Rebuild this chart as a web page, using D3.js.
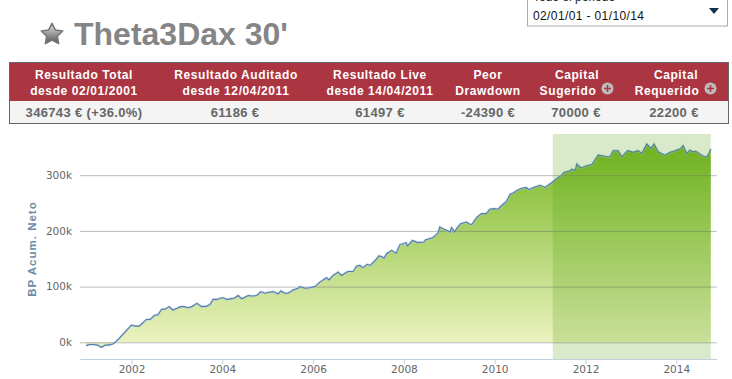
<!DOCTYPE html>
<html>
<head>
<meta charset="utf-8">
<script src="https://cdnjs.cloudflare.com/ajax/libs/d3/7.8.5/d3.min.js"></script>
<style>
html, body { margin: 0; padding: 0; background: #fff; overflow: hidden; }
svg { display: block; }
</style>
</head>
<body>
<svg id="chart" width="732" height="379"></svg>
<script>
// values: decimal year and accumulated profit in thousands
const years = [
    2001.00,2001.08,2001.17,2001.25,2001.34,2001.42,2001.49,2001.59,2001.67,2001.75,2001.83,2001.91,
    2002.00,2002.08,2002.17,2002.25,2002.33,2002.41,2002.52,2002.58,2002.66,2002.75,2002.83,2002.91,
    2003.00,2003.08,2003.16,2003.24,2003.33,2003.44,2003.55,2003.66,2003.73,2003.80,2003.88,2003.95,
    2004.02,2004.10,2004.17,2004.26,2004.35,2004.43,2004.57,2004.66,2004.76,2004.85,2004.94,
    2005.03,2005.12,2005.23,2005.29,2005.38,2005.45,2005.56,2005.67,2005.71,2005.82,2005.93,
    2006.04,2006.15,2006.22,2006.30,2006.35,2006.44,2006.55,2006.63,2006.70,2006.77,2006.88,2006.96,
    2007.03,2007.10,2007.19,2007.26,2007.32,2007.38,2007.45,2007.51,2007.56,2007.62,2007.73,2007.83,2007.91,
    2008.05,2008.08,2008.19,2008.31,2008.44,2008.48,2008.56,2008.64,2008.75,2008.79,2008.86,2008.94,
    2009.02,2009.05,2009.12,2009.16,2009.25,2009.34,2009.38,2009.45,2009.50,2009.60,2009.71,2009.82,2009.89,
    2009.98,2010.07,2010.16,2010.26,2010.34,2010.41,2010.48,2010.58,2010.69,2010.76,2010.83,2010.89,
    2011.00,2011.11,2011.26,2011.39,2011.46,2011.53,2011.66,2011.70,2011.77,2011.81,2011.90,
    2012.03,2012.14,2012.28,2012.36,2012.47,2012.54,2012.61,2012.72,2012.80,2012.87,2012.93,
    2013.05,2013.16,2013.24,2013.35,2013.44,2013.51,2013.60,2013.67,2013.75,2013.86,2013.94,
    2014.01,2014.08,2014.15,2014.23,2014.30,2014.36,2014.43,2014.50,2014.56,2014.65,2014.70,2014.76
];
const netProfit = [
    -6,-4,-4,-5,-9,-5,-5,-3,2,9,16,23,
    31,29,29,35,41,41,49,49,59,60,64,58,
    61,64,64,62,64,70,64,65,68,77,77,79,
    80,77,78,79,84,78,84,83,84,91,88,
    90,91,87,92,88,88,94,97,100,97,98,
    100,108,112,116,112,120,126,120,124,127,127,137,
    138,134,140,138,143,148,155,154,151,159,165,160,175,
    179,173,183,179,180,184,186,188,196,207,204,201,
    198,206,198,204,213,215,216,212,212,224,231,231,239,
    240,239,246,253,266,268,272,276,278,274,277,279,
    282,278,287,295,299,305,308,311,308,320,313,
    317,319,336,335,333,333,344,344,333,339,344,
    341,344,339,356,348,356,342,339,336,341,343,
    345,347,353,339,345,342,343,339,336,332,336,347
];
const yTicks = [0, 100, 200, 300];
const xTicks = [2002, 2004, 2006, 2008, 2010, 2012, 2014];
const liveStart = 2011.28;
const liveEnd = 2014.76;

const tableHeaders = [
    ["Resultado Total", "desde 02/01/2001"],
    ["Resultado Auditado", "desde 12/04/2011"],
    ["Resultado Live", "desde 14/04/2011"],
    ["Peor", "Drawdown"],
    ["Capital", "Sugerido"],
    ["Capital", "Requerido"]
];
const tableValues = ["346743 € (+36.0%)", "61186 €", "61497 €", "-24390 €", "70000 €", "22200 €"];
const headerCenters = [84, 236, 380, 488, 577, 676];
const secondLineCenters = [84, 236, 380, 488, 568, 667];
const valueCenters = [84, 235, 380, 488, 576, 674];
const plusIcons = [607.5, 710.5];

const svg = d3.select("#chart");
const defs = svg.append("defs");

// area colours fade towards the zero line
let areaGrad = defs.append("linearGradient")
    .attr("id", "areaGrad")
    .attr("gradientUnits", "userSpaceOnUse")
    .attr("x1", 0).attr("x2", 0).attr("y1", 145).attr("y2", 343);
areaGrad.append("stop").attr("offset", 0).attr("stop-color", "#78b824");
areaGrad.append("stop").attr("offset", 1).attr("stop-color", "#ebf2bf");

let starGrad = defs.append("linearGradient")
    .attr("id", "starGrad").attr("x1", 0).attr("x2", 0).attr("y1", 0).attr("y2", 1);
starGrad.append("stop").attr("offset", 0).attr("stop-color", "#e4e4e4");
starGrad.append("stop").attr("offset", 1).attr("stop-color", "#555");

// scales
const x = d3.scaleLinear().domain([2000.866, 2014.89]).range([80, 716.7]);
const y = d3.scaleLinear().domain([0, 300]).range([342.3, 175.2]);
const axisY = 359;

// title
let starShape = d3.lineRadial()
    .angle((d, i) => i * Math.PI / 5)
    .radius((d, i) => i % 2 ? 5.6 : 11.2)
    .curve(d3.curveLinearClosed);
svg.append("path")
    .attr("d", starShape(d3.range(10)))
    .attr("transform", "translate(52,34.5)")
    .attr("fill", "url(#starGrad)")
    .attr("stroke", "#777")
    .attr("stroke-width", 1.6)
    .attr("stroke-linejoin", "round");
svg.append("text")
    .attr("x", 74).attr("y", 45)
    .attr("font-family", "'Liberation Sans', Arial, sans-serif")
    .attr("font-weight", "bold")
    .attr("font-size", 32)
    .attr("fill", "#858585")
    .text("Theta3Dax 30'");

// date selector, its top is cut by the window
svg.append("rect")
    .attr("x", 527.5).attr("y", -10).attr("width", 200).attr("height", 36)
    .attr("fill", "#fff").attr("stroke", "#aaa");
svg.append("text")
    .attr("x", 533).attr("y", 1)
    .attr("font-family", "'Liberation Sans', Arial, sans-serif")
    .attr("font-size", 12).attr("fill", "#222")
    .text("Todo el periodo");
svg.append("text")
    .attr("x", 533).attr("y", 20)
    .attr("font-family", "'Liberation Sans', Arial, sans-serif")
    .attr("font-size", 12).attr("fill", "#111").attr("letter-spacing", 0.38)
    .text("02/01/01 - 01/10/14");
svg.append("path")
    .attr("d", "M709,8L719,8L714,14Z")
    .attr("fill", "#10304a");

// results table
svg.append("rect")
    .attr("x", 9.5).attr("y", 62.5).attr("width", 719).attr("height", 61)
    .attr("fill", "#f4f4f4").attr("stroke", "#666");
svg.append("rect")
    .attr("x", 10).attr("y", 63).attr("width", 718).attr("height", 38)
    .attr("fill", "#ab3540");

let heads = svg.selectAll(".head")
    .data(tableHeaders)
    .enter()
    .append("text")
    .attr("class", "head")
    .attr("text-anchor", "middle")
    .attr("font-family", "'Liberation Sans', Arial, sans-serif")
    .attr("font-weight", "bold")
    .attr("font-size", 12)
    .attr("letter-spacing", 0.6)
    .attr("fill", "#fff");
heads.append("tspan")
    .attr("x", (d, i) => headerCenters[i]).attr("y", 79)
    .text(d => d[0]);
heads.append("tspan")
    .attr("x", (d, i) => secondLineCenters[i]).attr("y", 95)
    .text(d => d[1]);

svg.selectAll(".val")
    .data(tableValues)
    .enter()
    .append("text")
    .attr("class", "val")
    .attr("x", (d, i) => valueCenters[i])
    .attr("y", 117)
    .attr("text-anchor", "middle")
    .attr("font-family", "'Liberation Sans', Arial, sans-serif")
    .attr("font-weight", "bold")
    .attr("font-size", 13)
    .attr("letter-spacing", 0.35)
    .attr("fill", "#666")
    .text(d => d);

let icons = svg.selectAll(".plus")
    .data(plusIcons)
    .enter()
    .append("g")
    .attr("class", "plus")
    .attr("transform", d => `translate(${d},88.5)`);
icons.append("circle").attr("r", 6).attr("fill", "#bdbdbd");
icons.append("path")
    .attr("d", "M-3.5,0H3.5M0,-3.5V3.5")
    .attr("stroke", "#ab3540").attr("stroke-width", 1.6);

// area and line
let points = years.map((d, i) => ({year: d, value: netProfit[i]}));

let area = d3.area()
    .x(d => x(d.year))
    .y0(y(0))
    .y1(d => y(d.value));
let line = d3.line()
    .x(d => x(d.year))
    .y(d => y(d.value));

svg.append("path").datum(points)
    .attr("d", area)
    .attr("fill", "url(#areaGrad)");

// grid comes from the y axis
let yAxis = d3.axisLeft(y)
    .tickValues(yTicks)
    .tickSize(-(716.7 - 80))
    .tickPadding(8)
    .tickFormat(d => d + "k");
let yG = svg.append("g").attr("transform", "translate(80,0)").call(yAxis);
yG.select(".domain").remove();
yG.selectAll("line").attr("stroke", "rgba(110,110,110,0.48)");
yG.selectAll("text")
    .attr("font-family", "'DejaVu Sans', Verdana, sans-serif")
    .attr("font-size", 10.5)
    .attr("fill", "#666");

svg.append("path").datum(points)
    .attr("d", line)
    .attr("fill", "none")
    .attr("stroke", "#b9cbe0")
    .attr("stroke-width", 2.4)
    .attr("stroke-opacity", 0.6);
svg.append("path").datum(points)
    .attr("d", line)
    .attr("fill", "none")
    .attr("stroke", "#4f7cab")
    .attr("stroke-width", 1.1);

// live period band
svg.append("rect")
    .attr("x", x(liveStart)).attr("y", 134)
    .attr("width", x(liveEnd) - x(liveStart)).attr("height", axisY - 134)
    .attr("fill", "rgb(80,160,20)")
    .attr("fill-opacity", 0.22);

let xAxis = d3.axisBottom(x)
    .tickValues(xTicks)
    .tickSize(5)
    .tickSizeOuter(0)
    .tickPadding(2)
    .tickFormat(d3.format("d"));
let xG = svg.append("g").attr("transform", `translate(0,${axisY})`).call(xAxis);
xG.select(".domain").attr("stroke", "#c0d0e0");
xG.selectAll("line").attr("stroke", "#c0d0e0");
xG.selectAll("text")
    .attr("font-family", "'DejaVu Sans', Verdana, sans-serif")
    .attr("font-size", 10.5)
    .attr("fill", "#666");

svg.append("text")
    .attr("transform", "translate(36,249) rotate(-90)")
    .attr("text-anchor", "middle")
    .attr("font-family", "'Liberation Sans', Arial, sans-serif")
    .attr("font-weight", "bold")
    .attr("font-size", 11.5)
    .attr("letter-spacing", 1)
    .attr("fill", "#6a8aa8")
    .text("BP Acum. Neto");
</script>
</body>
</html>
